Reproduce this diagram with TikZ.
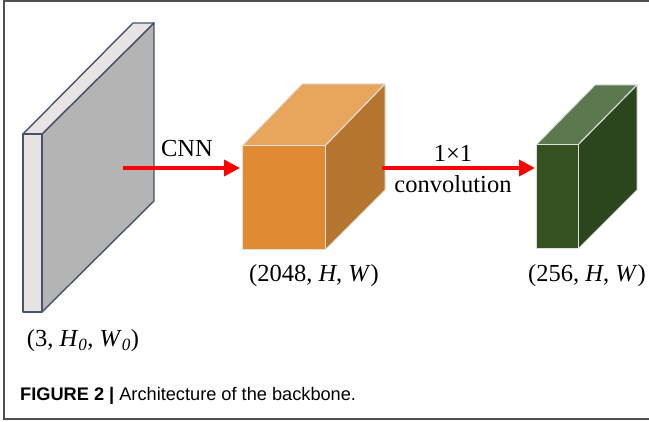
\documentclass[tikz,border=0pt]{standalone}
\usepackage{fontspec}
\setmainfont{Liberation Serif}
\newfontfamily\capfont{Liberation Sans}
\usetikzlibrary{arrows.meta}

\definecolor{slabedge}{HTML}{44546A}
\definecolor{slabfront}{HTML}{E9E4E4}
\definecolor{slabside}{HTML}{B4B4B4}
\definecolor{orfront}{HTML}{E08A32}
\definecolor{ortop}{HTML}{E8A65C}
\definecolor{orside}{HTML}{B5752F}
\definecolor{grfront}{HTML}{33521F}
\definecolor{grtop}{HTML}{5C784F}
\definecolor{grside}{HTML}{2B451D}
\definecolor{framecol}{HTML}{505050}

\tikzset{
  lbl/.style={inner sep=0pt, font=\fontsize{24.5}{28}\selectfont},
  flow/.style={draw={rgb,255:red,255;green,0;blue,0}, line width=3.5pt,
    -{Triangle[length=16pt,width=16pt]}},
  boxedge/.style={draw=white!88!black, line width=1pt, line join=round},
  slabline/.style={draw=slabedge, line width=1.4pt, line join=round},
}

\begin{document}
\begin{tikzpicture}[x=1pt,y=-1pt]
\useasboundingbox (0,0) rectangle (649,422);

% outer frame (open on the right)
\draw[framecol, line width=2pt] (649,1.5) -- (4,1.5) -- (4,419) -- (649,419);

% input slab
\filldraw[slabline, fill=slabside] (42,134) -- (154,23) -- (154,201) -- (42,312) -- cycle;
\filldraw[slabline, fill=slabfront] (23,134) -- (133,23) -- (154,23) -- (42,134) -- cycle;
\filldraw[slabline, fill=slabfront] (23,134) rectangle (42,312);
\node[lbl, anchor=center] (inlbl) at (83,341) {(3, \textit{H}\textsubscript{\textit{0}}, \textit{W}\textsubscript{\textit{0}})};
\coordinate (cnnstart) at (123,168);

% orange feature block
\filldraw[boxedge, fill=ortop] (242,146) -- (302,84) -- (385,84) -- (325,146) -- cycle;
\filldraw[boxedge, fill=orside] (325,146) -- (385,84) -- (385,190) -- (325,250) -- cycle;
\filldraw[boxedge, fill=orfront] (242,146) rectangle (325,250);
\coordinate (orin) at (240,168);
\coordinate (orout) at (382,168);
\node[lbl] (orlbl) at (314,276) {(2048, \textit{H}, \textit{W})};

% green feature block
\filldraw[boxedge, fill=grtop] (536,145) -- (595,85) -- (637,85) -- (578,145) -- cycle;
\filldraw[boxedge, fill=grside] (578,145) -- (637,85) -- (637,190) -- (578,249) -- cycle;
\filldraw[boxedge, fill=grfront] (536,145) rectangle (578,249);
\coordinate (grin) at (535,168);
\node[lbl] (grlbl) at (587,276) {(256, \textit{H}, \textit{W})};

% connectors
\draw[flow] (cnnstart) -- (orin);
\draw[flow] (orout) -- (grin);
\node[lbl] (cnnlbl) at (187,149) {CNN};
\node[lbl] (k1lbl) at (453,153) {1×1};
\node[lbl] (convlbl) at (453,184) {convolution};

% caption
\node[anchor=west, inner sep=0pt, font=\capfont\fontsize{18.2}{22}\selectfont] (cap) at (20,396)
  {\textbf{FIGURE 2 |} Architecture of the backbone.};
\end{tikzpicture}
\end{document}
